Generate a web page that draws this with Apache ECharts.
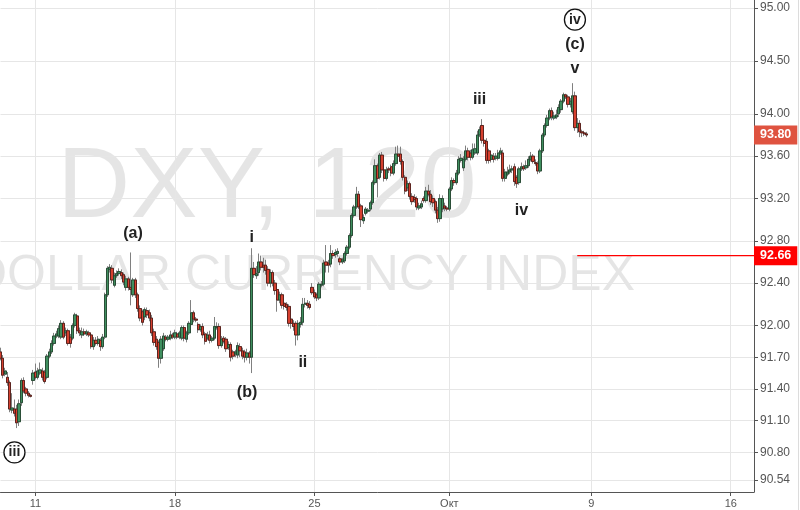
<!DOCTYPE html>
<html>
<head>
<meta charset="utf-8">
<title>DXY, 120</title>
<script src="https://cdn.jsdelivr.net/npm/echarts@6/dist/echarts.min.js"></script>
<style>
  html, body { margin: 0; padding: 0; background: #fff; }
  #chart { width: 800px; height: 510px; }
</style>
</head>
<body>
<div id="chart"></div>
<script>
// 120-minute candles: [open, close, low, high]
const candles = [
  [91.75,91.69,91.67,91.79],[91.69,91.53,91.50,91.72],[91.54,91.57,91.52,91.60],[91.51,91.46,91.43,91.56],
  [91.46,91.21,91.18,91.48],[91.20,91.22,91.17,91.36],[91.21,91.17,91.14,91.30],[91.21,91.08,91.03,91.25],
  [91.09,91.26,91.05,91.30],[91.27,91.48,91.24,91.50],[91.48,91.38,91.36,91.51],[91.40,91.36,91.33,91.42],
  [91.36,91.34,91.32,91.38],[91.34,91.33,91.32,91.35],
  // week of the 11th
  [91.48,91.55,91.44,91.58],[91.56,91.51,91.49,91.64],[91.51,91.57,91.49,91.60],[91.55,91.58,91.53,91.65],
  [91.57,91.51,91.48,91.60],[91.56,91.47,91.45,91.58],[91.51,91.71,91.49,91.73],[91.71,91.75,91.69,91.78],
  [91.75,91.83,91.73,91.86],[91.83,91.90,91.81,91.93],[91.90,91.92,91.88,91.95],[91.90,91.97,91.88,92.00],
  [91.89,92.02,91.87,92.05],[92.02,91.89,91.87,92.04],[91.93,91.95,91.90,91.98],[91.95,91.83,91.81,91.97],
  [91.89,91.83,91.79,91.92],[91.88,92.00,91.86,92.02],[92.00,92.10,91.98,92.12],[92.09,91.95,91.92,92.11],
  [91.95,91.93,91.90,91.98],[91.91,91.94,91.88,91.98],[91.94,91.92,91.90,91.97],[91.92,91.94,91.90,91.96],
  [91.93,91.91,91.89,91.95],[91.91,91.80,91.78,91.93],[91.80,91.86,91.77,91.89],[91.86,91.83,91.81,91.89],
  [91.83,91.87,91.81,91.90],[91.86,91.80,91.76,91.88],[91.80,91.89,91.78,91.92],[91.89,92.29,91.87,92.31],
  [92.29,92.54,92.27,92.56],[92.53,92.55,92.50,92.58],[92.54,92.43,92.40,92.57],[92.38,92.47,92.36,92.50],
  [92.47,92.49,92.45,92.52],[92.49,92.51,92.47,92.54],[92.50,92.47,92.44,92.53],[92.48,92.41,92.38,92.50],
  [92.36,92.44,92.33,92.47],[92.44,92.36,92.33,92.46],[92.36,92.34,92.19,92.69],[92.29,92.43,92.27,92.45],
  [92.43,92.29,92.26,92.45],[92.29,92.16,92.13,92.31],[92.16,92.07,92.04,92.19],[92.13,92.03,92.00,92.15],
  [92.08,92.15,92.05,92.17],[92.14,92.10,92.07,92.17],[92.12,92.07,92.04,92.15],[92.07,91.93,91.90,92.10],
  [91.94,91.84,91.81,91.97],[91.87,91.80,91.77,91.90],[91.84,91.69,91.60,91.86],[91.69,91.87,91.64,91.90],
  [91.78,91.90,91.76,91.93],[91.89,91.87,91.85,91.91],[91.87,91.89,91.85,91.91],[91.88,91.91,91.86,91.95],
  // week of the 18th
  [91.91,91.89,91.87,91.93],[91.89,91.93,91.87,91.96],[91.92,91.89,91.87,91.94],[91.89,91.93,91.87,91.95],
  [91.88,91.98,91.86,92.00],[91.98,91.88,91.85,92.00],[91.87,91.93,91.84,91.95],[91.93,92.02,91.91,92.04],
  [92.01,92.12,91.99,92.24],[92.12,92.06,92.03,92.14],[92.06,92.05,92.03,92.08],[92.01,91.96,91.93,92.03],
  [91.96,91.99,91.94,92.01],[91.99,91.91,91.88,92.02],[91.92,91.85,91.82,91.94],[91.88,91.91,91.86,91.94],
  [91.91,91.86,91.83,91.95],[91.86,91.88,91.84,91.90],[91.88,91.99,91.86,92.08],[91.98,91.99,91.96,92.03],
  [91.99,91.81,91.78,92.02],[91.81,91.87,91.79,91.90],[91.88,91.85,91.83,91.90],[91.87,91.78,91.75,91.89],
  [91.79,91.82,91.77,91.85],[91.82,91.70,91.66,91.84],[91.75,91.71,91.68,91.77],[91.73,91.75,91.70,91.77],
  [91.72,91.81,91.69,91.84],[91.80,91.76,91.70,91.83],[91.76,91.71,91.68,91.79],[91.75,91.70,91.65,91.77],
  [91.70,91.74,91.67,91.78],[91.74,91.70,91.64,91.76],
  [91.70,92.54,91.55,92.73],[92.54,92.48,92.45,92.60],[92.47,92.49,92.44,92.56],[92.50,92.60,92.47,92.68],
  [92.60,92.55,92.52,92.66],[92.57,92.55,92.50,92.64],[92.57,92.52,92.48,92.62],[92.53,92.40,92.37,92.56],
  [92.40,92.50,92.36,92.53],[92.50,92.40,92.37,92.52],[92.40,92.33,92.29,92.43],[92.34,92.24,92.13,92.36],
  [92.24,92.29,92.21,92.32],[92.29,92.19,92.16,92.31],[92.21,92.18,92.15,92.23],[92.20,92.17,92.14,92.22],
  [92.18,92.02,91.99,92.20],[92.06,92.02,91.97,92.08],[92.02,91.99,91.95,92.05],[92.02,91.91,91.81,92.04],
  [91.91,92.02,91.86,92.05],[92.01,92.03,91.98,92.08],[92.03,92.20,92.00,92.26],[92.20,92.21,92.17,92.26],
  [92.21,92.19,92.16,92.24],[92.20,92.17,92.15,92.23],
  // week of the 25th
  [92.36,92.31,92.29,92.40],[92.31,92.27,92.25,92.34],[92.29,92.26,92.23,92.31],[92.26,92.39,92.24,92.41],
  [92.38,92.39,92.36,92.42],[92.39,92.59,92.37,92.62],[92.60,92.57,92.50,92.76],[92.59,92.57,92.50,92.62],
  [92.58,92.68,92.55,92.76],[92.68,92.66,92.63,92.71],[92.67,92.69,92.64,92.72],[92.68,92.70,92.65,92.73],
  [92.63,92.60,92.57,92.65],[92.60,92.62,92.58,92.64],[92.61,92.68,92.59,92.70],[92.68,92.74,92.66,92.76],
  [92.74,92.85,92.72,92.87],[92.85,93.04,92.83,93.06],[93.04,93.12,93.02,93.14],[93.12,93.24,93.10,93.31],
  [93.24,93.12,93.10,93.27],[93.13,93.00,92.93,93.15],[92.99,93.02,92.96,93.05],[93.06,93.10,93.04,93.12],
  [93.08,93.09,93.06,93.11],[93.10,93.16,93.08,93.18],[93.16,93.35,93.14,93.37],[93.35,93.51,93.33,93.57],
  [93.51,93.39,93.21,93.53],[93.40,93.61,93.38,93.63],[93.61,93.47,93.44,93.64],[93.47,93.39,93.36,93.49],
  [93.39,93.47,93.37,93.50],[93.48,93.47,93.44,93.50],[93.50,93.44,93.41,93.52],[93.44,93.53,93.42,93.56],
  [93.53,93.62,93.51,93.69],[93.62,93.60,93.57,93.70],[93.62,93.55,93.52,93.69],[93.55,93.40,93.37,93.57],
  [93.40,93.27,93.24,93.42],[93.30,93.34,93.27,93.37],[93.34,93.22,93.19,93.36],[93.22,93.17,93.14,93.25],
  [93.21,93.19,93.16,93.24],[93.20,93.12,93.09,93.22],[93.11,93.13,93.09,93.16],[93.12,93.15,93.10,93.18],
  [93.20,93.18,93.16,93.22],[93.18,93.27,93.16,93.31],[93.27,93.24,93.22,93.33],[93.24,93.17,93.14,93.28],
  [93.20,93.16,93.12,93.23],[93.17,93.09,93.06,93.19],[93.09,93.01,92.97,93.12],[93.01,93.20,92.98,93.24],
  [93.10,93.20,93.07,93.23],[93.13,93.11,93.08,93.16],[93.11,93.10,93.08,93.13],
  // October
  [93.10,93.29,93.08,93.31],[93.29,93.37,93.27,93.40],[93.37,93.35,93.32,93.39],[93.35,93.44,93.33,93.47],
  [93.44,93.57,93.42,93.60],[93.56,93.58,93.54,93.62],[93.49,93.57,93.46,93.60],[93.57,93.65,93.55,93.70],
  [93.65,93.59,93.56,93.68],[93.63,93.59,93.56,93.66],[93.59,93.66,93.57,93.72],[93.63,93.67,93.61,93.72],
  [93.63,93.80,93.61,93.84],[93.80,93.85,93.78,93.88],[93.89,93.75,93.72,93.95],[93.75,93.72,93.69,93.79],
  [93.74,93.56,93.53,93.77],[93.65,93.56,93.53,93.67],[93.57,93.61,93.54,93.64],[93.60,93.57,93.54,93.63],
  [93.58,93.60,93.56,93.63],[93.58,93.63,93.56,93.66],[93.63,93.65,93.61,93.68],[93.63,93.39,93.36,93.66],
  [93.39,93.45,93.36,93.48],[93.43,93.45,93.41,93.50],[93.45,93.47,93.43,93.52],[93.47,93.48,93.44,93.51],
  [93.50,93.36,93.32,93.53],[93.40,93.34,93.30,93.42],[93.35,93.48,93.33,93.50],[93.48,93.50,93.46,93.54],
  [93.50,93.48,93.46,93.52],[93.49,93.51,93.47,93.56],[93.51,93.57,93.49,93.60],[93.57,93.60,93.55,93.64],
  [93.60,93.55,93.53,93.62],[93.54,93.53,93.51,93.57],[93.53,93.46,93.43,93.55],[93.46,93.65,93.44,93.67],
  [93.65,93.80,93.63,93.82],[93.80,93.89,93.78,93.91],[93.89,93.96,93.87,93.99],[93.96,94.03,93.94,94.05],
  [94.03,93.97,93.94,94.06],[93.96,93.98,93.94,94.02],[93.97,93.99,93.95,94.04],[94.00,94.06,93.97,94.09],
  [94.04,94.12,94.01,94.14],[94.12,94.18,94.10,94.20],[94.18,94.16,94.14,94.19],[94.16,94.09,94.06,94.18],
  [94.09,94.12,94.06,94.15],[94.02,94.17,94.00,94.29],[94.17,93.87,93.84,94.21],[93.87,93.91,93.82,93.96],
  [93.91,93.83,93.78,93.94],[93.83,93.82,93.78,93.85],[93.82,93.81,93.79,93.84],[93.81,93.80,93.78,93.83]
];

const barCount = 325;                      // slots on the time axis (incl. empty future)
const xTickIdx = [15, 75, 135, 193, 254, 314];
const xTickLabels = ['11', '18', '25', 'Окт', '9', '16'];
const yTicks = [90.54, 90.80, 91.10, 91.40, 91.70, 92.00, 92.40, 92.80, 93.20, 93.60, 94.00, 94.50, 95.00];
const yMin = 90.426;
const yMax = 95.076;

const lastPrice = 93.80;
const levelPrice = 92.66;
const levelFrom = 248;

// wave count labels
const waveText  = ['iii', '(a)', 'i', '(b)', 'ii', 'iii', 'iv', 'v', '(c)', 'iv'];
const waveIdx   = [6, 57, 108, 106, 130, 206, 224, 247, 247, 247];
const wavePrice = [90.80, 92.87, 92.83, 91.37, 91.65, 94.13, 93.09, 94.43, 94.65, 94.89];
const waveRing  = [true, false, false, false, false, false, false, false, false, true];

const categories = Array.from({ length: barCount }, (_, i) => String(i));
const bodies = candles.map(d => [d[0], d[1], Math.min(d[0], d[1]), Math.max(d[0], d[1])]);
const levelLine = categories.map((c, i) => (i >= levelFrom ? levelPrice : null));
const isTick = i => xTickIdx.indexOf(i) >= 0;

const priceTag = (value, bg) => ({
  show: true, distance: 0,
  formatter: value.toFixed(2),
  color: '#fff', fontWeight: 'bold', fontSize: 12.5,
  backgroundColor: bg, padding: [3, 6, 3, 6]
});

const chart = echarts.init(document.getElementById('chart'));
chart.setOption({
  animation: false,
  backgroundColor: '#fff',
  textStyle: { fontFamily: 'Liberation Sans, Arial, sans-serif' },
  grid: { left: 0.5, right: 46, top: 0, bottom: 18 },
  graphic: [
    {
      type: 'text', x: 267, y: 189, z: 0, silent: true,
      style: {
        text: 'DXY, 120', font: '101px "Liberation Sans", Arial, sans-serif',
        fill: 'rgba(0,0,0,0.1)', align: 'center', verticalAlign: 'middle',
        textAlign: 'center', textVerticalAlign: 'middle'
      }
    },
    {
      type: 'text', x: 303, y: 276, z: 0, silent: true,
      style: {
        text: 'DOLLAR CURRENCY INDEX', font: '50px "Liberation Sans", Arial, sans-serif',
        fill: 'rgba(0,0,0,0.1)', align: 'center', verticalAlign: 'middle',
        textAlign: 'center', textVerticalAlign: 'middle'
      }
    },
    {
      type: 'line', silent: true,
      shape: { x1: 798.5, y1: 0, x2: 798.5, y2: 510 },
      style: { stroke: '#dcdcdc', lineWidth: 1 }
    }
  ],
  xAxis: {
    type: 'category',
    data: categories,
    boundaryGap: false,
    axisLine: { lineStyle: { color: '#555' } },
    axisTick: { interval: isTick, length: 4, lineStyle: { color: '#555' } },
    axisLabel: {
      interval: isTick,
      formatter: (v, i) => xTickLabels[xTickIdx.indexOf(i)] || '',
      color: '#555', fontSize: 11, margin: 6
    },
    splitLine: { show: true, interval: isTick, lineStyle: { color: '#e6e6e6' } }
  },
  yAxis: {
    type: 'value',
    position: 'right',
    min: yMin,
    max: yMax,
    axisLine: { show: true, lineStyle: { color: '#555' } },
    axisTick: { show: true, length: 4, customValues: yTicks, lineStyle: { color: '#555' } },
    axisLabel: {
      customValues: yTicks,
      formatter: v => v.toFixed(2),
      color: '#555', fontSize: 12, margin: 6
    },
    splitLine: { show: true, lineStyle: { color: '#e6e6e6' } }
  },
  series: [
    {
      name: 'wicks',
      type: 'candlestick',
      data: candles,
      barWidth: 2.8,
      z: 2,
      itemStyle: { color: '#808080', color0: '#808080', borderColor: '#808080', borderColor0: '#808080', borderWidth: 1 }
    },
    {
      name: 'DXY',
      type: 'candlestick',
      data: bodies,
      barWidth: 2.8,
      z: 3,
      itemStyle: {
        color: '#3f8f5f', color0: '#d6402f',
        borderColor: '#1d4029', borderColor0: '#4a1510', borderWidth: 0.8
      },
      markLine: {
        silent: true,
        symbol: 'none',
        data: [
          {
            yAxis: lastPrice,
            lineStyle: { color: 'rgba(0,0,0,0)', width: 0 },
            label: Object.assign({ position: 'end' }, priceTag(lastPrice, '#df5340'))
          }
        ]
      },
      markPoint: {
        silent: true,
        data: waveText.map((t, k) => ({
          coord: [String(waveIdx[k]), wavePrice[k]],
          symbol: 'circle',
          symbolSize: waveRing[k] ? 21 : 1,
          itemStyle: waveRing[k]
            ? { color: '#fff', borderColor: '#111', borderWidth: 1.3 }
            : { color: 'rgba(0,0,0,0)' },
          label: {
            show: true, position: 'inside', formatter: t,
            color: '#222', fontWeight: 'bold', fontSize: waveRing[k] ? 14 : 16
          }
        }))
      }
    },
    {
      name: 'level',
      type: 'line',
      data: levelLine,
      showSymbol: false,
      symbol: 'none',
      silent: true,
      z: 4,
      color: '#f00',
      lineStyle: { color: '#f00', width: 1.4 },
      endLabel: priceTag(levelPrice, '#f00')
    }
  ]
});
</script>
</body>
</html>
